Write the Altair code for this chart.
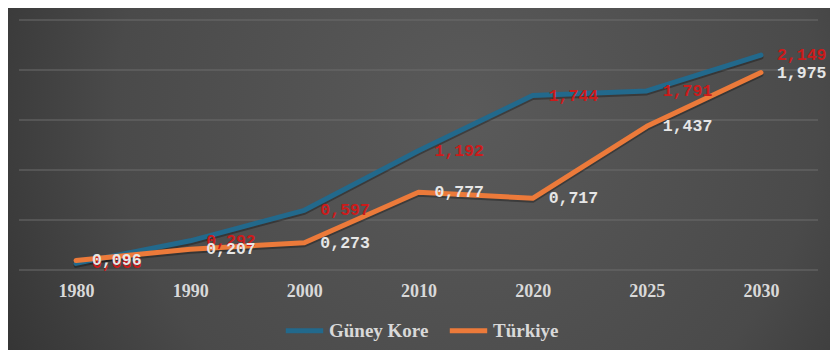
import altair as alt
import pandas as pd

years = ["1980", "1990", "2000", "2010", "2020", "2025", "2030"]
korea = [0.066, 0.292, 0.597, 1.192, 1.744, 1.791, 2.149]
turkey = [0.096, 0.207, 0.273, 0.777, 0.717, 1.437, 1.975]
series = ["Güney Kore", "Türkiye"]
colors = ["#22698c", "#ec7a3a"]
grid_values = [0, 0.5, 1, 1.5, 2, 2.5]

rows = []
for i, y in enumerate(years):
    rows.append({"year": y, "series": series[0], "value": korea[i], "order": 0})
    rows.append({"year": y, "series": series[1], "value": turkey[i], "order": 1})
df = pd.DataFrame(rows)
df["label"] = df["value"].map(lambda v: f"{v:.3f}".replace(".", ","))

x_enc = alt.X("year:O", scale=alt.Scale(type="point", padding=0.5),
              axis=alt.Axis(title=None, labelAngle=0, ticks=False, domain=False, grid=False,
                            labelFont="Liberation Serif", labelFontWeight="bold",
                            labelFontSize=18, labelColor="#d9d9d9", labelPadding=12,
                            zindex=1))
y_scale = alt.Scale(domain=[0, 2.5], nice=False)
y_enc = alt.Y("value:Q", scale=y_scale, axis=None)

bg = alt.Chart(alt.Data(values=[{"a": 1}])).mark_rect(
    color=alt.RadialGradient(
        gradient="radial", x1=0.55, y1=0.42, x2=0.55, y2=0.42, r1=0, r2=0.75,
        stops=[alt.GradientStop(offset=0, color="#5a5a5a"),
               alt.GradientStop(offset=0.55, color="#4a4a4a"),
               alt.GradientStop(offset=1, color="#262626")]),
    clip=False
).encode(x=alt.value(-20), x2=alt.value(830), y=alt.value(-20), y2=alt.value(340))

grid = alt.Chart(pd.DataFrame({"g": grid_values})).mark_rule(
    color="#6c6c6c", strokeWidth=1).encode(
    y=alt.Y("g:Q", scale=y_scale, axis=None))

base = alt.Chart(df)

shadow = base.mark_line(strokeWidth=5, strokeCap="round", strokeJoin="round",
                        color="black", opacity=0.3, yOffset=2).encode(
    x=x_enc, y=y_enc, detail="series:N")

lines = base.mark_line(strokeWidth=5, strokeCap="round", strokeJoin="round").encode(
    x=x_enc, y=y_enc,
    color=alt.Color("series:N", scale=alt.Scale(domain=series, range=colors),
                    legend=alt.Legend(title=None, orient="none", legendX=264, legendY=289,
                                      direction="horizontal", symbolType="stroke",
                                      symbolStrokeWidth=5, symbolSize=1400,
                                      labelFont="Liberation Serif", labelFontWeight="bold",
                                      labelFontSize=19, labelColor="#d9d9d9",
                                      labelOffset=3, columnPadding=10)),
    order="order:Q")

text_k = alt.Chart(df[df["series"] == series[0]]).mark_text(
    align="left", baseline="middle", dx=16, font="Liberation Mono",
    fontWeight="bold", fontSize=16.5, color="#cc1b1b").encode(
    x=x_enc, y=y_enc, text="label:N")

text_t = alt.Chart(df[df["series"] == series[1]]).mark_text(
    align="left", baseline="middle", dx=16, font="Liberation Mono",
    fontWeight="bold", fontSize=16.5, color="#e6e6e6").encode(
    x=x_enc, y=y_enc, text="label:N")

chart = alt.layer(bg, grid, shadow, lines, text_k, text_t).properties(
    width=799, height=250,
    autosize=alt.AutoSizeParams(type="none"),
    padding={"left": 11, "top": 12, "right": 12, "bottom": 80},
    background="#333333"
).configure_view(strokeWidth=0)

chart.save("out.html", embed_options={"renderer": "svg", "actions": False})
